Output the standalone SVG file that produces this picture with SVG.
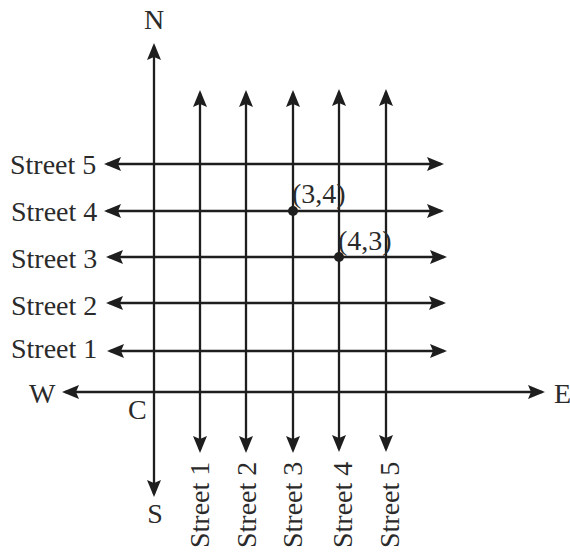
<svg xmlns="http://www.w3.org/2000/svg" width="570" height="552" viewBox="0 0 570 552">
<defs>
<marker id="ah" markerUnits="userSpaceOnUse" markerWidth="20" markerHeight="16" refX="14" refY="7" orient="auto-start-reverse">
<path d="M0,0 L17,7 L0,14 L3,7 z" fill="#1e1e1e"/>
</marker>
<style>
.ln{stroke:#1e1e1e;stroke-width:2.3;fill:none;marker-start:url(#ah);marker-end:url(#ah)}
.t{font-family:"Liberation Serif","Times New Roman",serif;font-size:28px;fill:#2a2a2a}
</style>
</defs>
<rect width="570" height="552" fill="#fff"/>
<g id="connectors">
<line class="ln" x1="154" y1="46" x2="154" y2="494"/>
<line class="ln" x1="65" y1="392" x2="542" y2="392"/>
<line class="ln" x1="200" y1="93" x2="200" y2="450"/>
<line class="ln" x1="246" y1="93" x2="246" y2="450"/>
<line class="ln" x1="293" y1="93" x2="293" y2="450"/>
<line class="ln" x1="339" y1="92" x2="339" y2="449"/>
<line class="ln" x1="386" y1="92" x2="386" y2="449"/>
<line class="ln" x1="107" y1="164" x2="441" y2="164"/>
<line class="ln" x1="107" y1="211" x2="441" y2="211"/>
<line class="ln" x1="109" y1="257" x2="444" y2="257"/>
<line class="ln" x1="109" y1="303" x2="443" y2="303"/>
<line class="ln" x1="110" y1="351" x2="444" y2="351"/>
</g>
<g id="points">
<circle cx="293" cy="211" r="5" fill="#1e1e1e"/>
<circle cx="339" cy="257" r="5" fill="#1e1e1e"/>
</g>
<g id="labels">
<text class="t" x="154" y="29" text-anchor="middle">N</text>
<text class="t" x="155" y="523" text-anchor="middle">S</text>
<text class="t" x="29" y="403">W</text>
<text class="t" x="554" y="403">E</text>
<text class="t" x="128" y="419">C</text>
<text class="t" x="292" y="203">(3,4)</text>
<text class="t" x="338" y="250">(4,3)</text>
<text class="t" x="10" y="174">Street 5</text>
<text class="t" x="11" y="221">Street 4</text>
<text class="t" x="11" y="268">Street 3</text>
<text class="t" x="11" y="315">Street 2</text>
<text class="t" x="11" y="358">Street 1</text>
<text class="t" transform="translate(209,548) rotate(-90)">Street 1</text>
<text class="t" transform="translate(256,548) rotate(-90)">Street 2</text>
<text class="t" transform="translate(302,548) rotate(-90)">Street 3</text>
<text class="t" transform="translate(352,548) rotate(-90)">Street 4</text>
<text class="t" transform="translate(399,548) rotate(-90)">Street 5</text>
</g>
</svg>
